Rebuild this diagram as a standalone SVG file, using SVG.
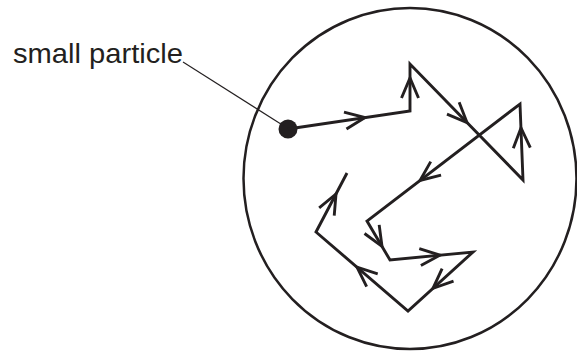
<svg xmlns="http://www.w3.org/2000/svg" xmlns:xlink="http://www.w3.org/1999/xlink" width="577" height="352" viewBox="0 0 577 352">
  <style>
    .boundary { fill: none; stroke: #231f20; stroke-width: 2.5; }
    .track { fill: none; stroke: #231f20; stroke-width: 2.9; stroke-linejoin: miter; }
    .chev { fill: none; stroke: #231f20; stroke-width: 2.9; stroke-linejoin: miter; }
    .leader { fill: none; stroke: #231f20; stroke-width: 1.1; }
    .label { font-family: "Liberation Sans", Arial, sans-serif; font-size: 27.5px; fill: #231f20; }
  </style>
  <defs>
    <path id="chev" class="chev" d="M-20,-8.5 L0,0 L-20,8.5"/>
  </defs>
  <rect width="577" height="352" fill="#ffffff"/>
  <g id="container">
    <ellipse class="boundary" cx="410" cy="178.5" rx="166.5" ry="170.5"/>
  </g>
  <g id="label">
    <text class="label" x="13" y="62.5" textLength="170" lengthAdjust="spacingAndGlyphs">small particle</text>
  </g>
  <g id="particle">
    <circle cx="288" cy="129" r="9.5" fill="#231f20"/>
  </g>
  <g id="connectors">
    <line class="leader" x1="183" y1="62" x2="284" y2="126"/>
    <polyline class="track" points="288,129 410,111 410,64 523,180 520,104 367,221 390,260 473,252 408,311 316,232 347,173"/>
    <use xlink:href="#chev" transform="translate(365,117.6) rotate(-8.4)"/>
    <use xlink:href="#chev" transform="translate(410,78) rotate(-90)"/>
    <use xlink:href="#chev" transform="translate(467,122.5) rotate(45.8)"/>
    <use xlink:href="#chev" transform="translate(521,128) rotate(-92.3)"/>
    <use xlink:href="#chev" transform="translate(420,180.5) rotate(142.6)"/>
    <use xlink:href="#chev" transform="translate(382,246.4) rotate(59.5)"/>
    <use xlink:href="#chev" transform="translate(440,255.2) rotate(-5.5)"/>
    <use xlink:href="#chev" transform="translate(433,288.3) rotate(137.8)"/>
    <use xlink:href="#chev" transform="translate(357,267.2) rotate(-139.4)"/>
    <use xlink:href="#chev" transform="translate(336,194) rotate(-62.3)"/>
  </g>
</svg>
